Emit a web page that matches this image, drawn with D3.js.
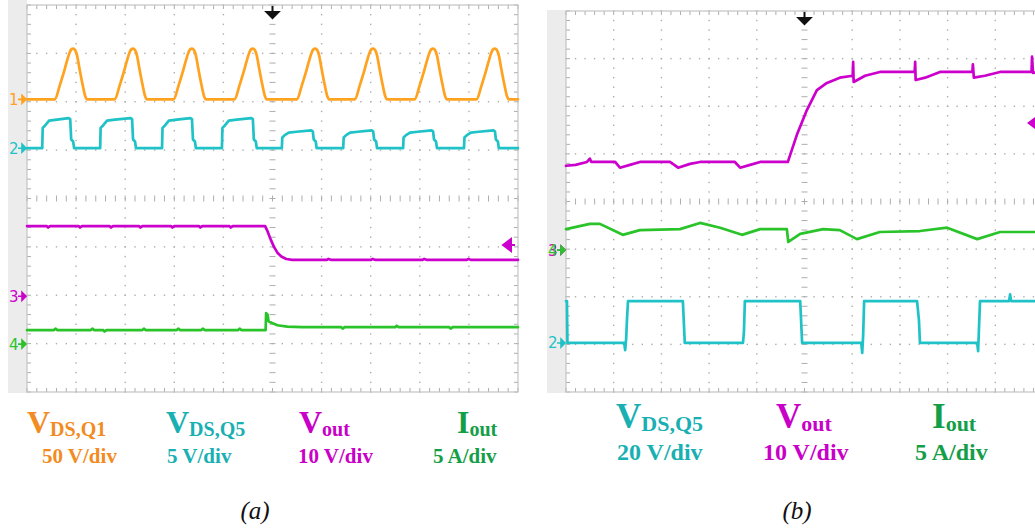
<!DOCTYPE html>
<html><head><meta charset="utf-8">
<script src="https://cdn.jsdelivr.net/npm/d3@7"></script>
<style>html,body{margin:0;padding:0;background:#fff;}svg{display:block;}</style>
</head><body>
<svg id="c" width="1035" height="529"></svg>
<script>
// ---------- DATA (time in divisions 0..10, signal in divisions 0..8 from bottom) ----------
// Panel (a)
const aCh1Base = 6.05, aCh1Peak = 7.10;
const aCh1Peaks = [0.94, 2.16, 3.36, 4.60, 5.87, 7.05, 8.27, 9.53];
const aCh1Shape = [[-0.37,0],[-0.28,0.25],[-0.20,0.5],[-0.13,0.74],[-0.08,0.9],[-0.04,0.98],[0,1],[0.04,0.97],[0.08,0.86],[0.13,0.6],[0.19,0.3],[0.25,0.05],[0.28,0]];
const aCh2Base = 5.04;
// [rise, fall, step level, top level]
const aCh2Pulses = [
  [0.31,0.88,5.46,5.66],[1.49,2.14,5.46,5.66],[2.75,3.36,5.46,5.66],[3.97,4.60,5.46,5.66],
  [5.19,5.82,5.26,5.41],[6.44,7.05,5.26,5.41],[7.66,8.27,5.26,5.41],[8.90,9.53,5.26,5.41]
];
const aCh3 = [[0,3.43],[0.40,3.43],[0.43,3.40],[0.47,3.43],[1.05,3.43],[1.08,3.40],[1.12,3.43],
  [1.68,3.43],[1.71,3.40],[1.75,3.43],[2.28,3.43],[2.31,3.40],[2.35,3.43],[2.93,3.43],[2.96,3.40],[3.00,3.43],
  [3.50,3.43],[3.53,3.40],[3.57,3.43],[4.12,3.43],[4.15,3.40],[4.19,3.43],[4.78,3.43],[4.85,3.43],
  [4.90,3.32],[4.96,3.16],[5.03,3.00],[5.10,2.88],[5.18,2.80],[5.28,2.75],[5.40,2.73],
  [6.10,2.73],[6.14,2.75],[6.20,2.73],[7.00,2.73],[7.04,2.75],[7.10,2.73],[8.05,2.73],[8.09,2.75],[8.15,2.73],
  [8.95,2.73],[8.99,2.75],[9.05,2.73],[10,2.73]];
const aCh4 = [[0,1.28],[0.55,1.28],[0.58,1.31],[0.62,1.28],[1.30,1.28],[1.33,1.31],[1.37,1.28],[1.55,1.28],[1.58,1.25],[1.62,1.28],
  [2.35,1.28],[2.38,1.31],[2.42,1.28],[3.05,1.28],[3.08,1.31],[3.12,1.28],[3.55,1.28],[3.58,1.31],[3.62,1.28],
  [4.30,1.28],[4.33,1.31],[4.37,1.28],[4.86,1.28],[4.87,1.63],[4.90,1.60],[4.92,1.46],[4.98,1.43],
  [5.10,1.38],[5.30,1.35],[5.60,1.34],[6.40,1.34],[6.43,1.31],[6.47,1.34],[7.50,1.34],[7.53,1.37],[7.57,1.34],
  [8.60,1.34],[8.63,1.31],[8.67,1.34],[10,1.34]];
// Panel (b)
const bCh3 = [[0,4.75],[0.20,4.77],[0.44,4.83],[0.50,4.90],[0.53,4.83],[1.03,4.83],[1.13,4.71],[1.34,4.77],[1.55,4.83],
  [2.18,4.83],[2.35,4.71],[2.60,4.79],[2.81,4.83],[3.54,4.83],[3.65,4.71],[3.86,4.77],[4.07,4.83],[4.65,4.83],
  [4.70,4.98],[4.84,5.40],[5.05,5.92],[5.26,6.34],[5.47,6.49],[5.74,6.60],[6.01,6.64],[6.02,6.93],[6.03,6.51],
  [6.27,6.64],[6.58,6.72],[7.31,6.72],[7.32,6.93],[7.33,6.55],[7.53,6.60],[7.84,6.72],[8.52,6.72],[8.53,6.88],
  [8.55,6.60],[8.78,6.64],[9.10,6.72],[9.76,6.72],[9.77,7.04],[9.79,6.70],[10,6.72]];
const bCh4 = [[0,3.42],[0.50,3.53],[0.71,3.53],[1.19,3.30],[1.55,3.40],[2.39,3.42],[2.81,3.55],[3.23,3.45],
  [3.69,3.30],[4.07,3.42],[4.63,3.42],[4.66,3.15],[4.91,3.32],[5.39,3.42],[5.74,3.40],[6.10,3.21],[6.58,3.36],
  [7.42,3.38],[7.99,3.45],[8.62,3.21],[9.10,3.36],[10,3.36]];
const bCh2 = [[0,1.91],[0.02,1.91],[0.03,1.03],[1.22,1.03],[1.24,0.88],[1.26,1.10],[1.28,1.55],[1.30,1.91],
  [2.45,1.91],[2.49,1.03],[3.71,1.03],[3.73,1.25],[3.75,1.91],[4.91,1.91],[4.95,1.03],
  [6.19,1.03],[6.21,0.82],[6.23,1.20],[6.25,1.91],[7.36,1.91],[7.40,1.50],[7.42,1.03],
  [8.62,1.03],[8.64,0.86],[8.66,1.40],[8.68,1.91],[9.29,1.91],[9.31,2.05],[9.33,1.91],[10,1.91]];
// markers and labels
const aMarkers = [["1",6.05,"ch1"],["2",5.04,"ch2"],["3",1.98,"ch3"],["4",0.99,"ch4"]];
const bMarkers = [["3",2.98,"ch3"],["4",2.98,"ch4"],["2",1.03,"ch2"]];
const aLabels = [["V","DS,Q1","50 V/div","lab1"],["V","DS,Q5","5 V/div","lab2"],["V","out","10 V/div","lab3"],["I","out","5 A/div","lab4"]];
const bLabels = [["V","DS,Q5","20 V/div","lab2"],["V","out","10 V/div","lab3"],["I","out","5 A/div","lab4"]];
const captions = ["(a)","(b)"];

// ---------- STYLE ----------
const col = {ch1:"#ffa21f", ch2:"#1fc2c6", ch3:"#cc00cc", ch4:"#2ac42a",
             lab1:"#f28c22", lab2:"#19b0b3", lab3:"#c800c8", lab4:"#159e48"};

const svg = d3.select("#c");
const xA = d3.scaleLinear().domain([0,10]).range([27,518]);
const yA = d3.scaleLinear().domain([0,8]).range([392,5]);
const xB = d3.scaleLinear().domain([0,10]).range([566,1043]);
const yB = d3.scaleLinear().domain([0,8]).range([392,11]);

function panel(x, y, stripTop){
  const g = svg.append("g");
  g.append("rect").attr("x", x(0)-19).attr("y", stripTop).attr("width",19).attr("height", y(0)-stripTop+1).attr("fill","#ececec");
  g.append("rect").attr("x", x(0)).attr("y", y(8)).attr("width", x(10)-x(0)).attr("height", y(0)-y(8)).attr("fill","#fff");
  const gc = "#adadad";
  const minor = d3.range(0, 50.5, 1).map(k => k/5);
  const minorV = d3.range(0, 40.5, 1).map(k => k/5);
  for (let i=1;i<10;i++){ if(i===5) continue;
    minorV.forEach(v => g.append("rect").attr("x", x(i)-0.7).attr("y", y(v)-0.7).attr("width",1.4).attr("height",1.4).attr("fill",gc)); }
  for (let j=1;j<8;j++){ if(j===4) continue;
    minor.forEach(t => g.append("rect").attr("x", x(t)-0.7).attr("y", y(j)-0.7).attr("width",1.4).attr("height",1.4).attr("fill",gc)); }
  minorV.forEach(v => g.append("line").attr("x1", x(5)-3).attr("x2", x(5)+3).attr("y1", y(v)).attr("y2", y(v)).attr("stroke",gc).attr("stroke-width",1));
  minor.forEach(t => g.append("line").attr("x1", x(t)).attr("x2", x(t)).attr("y1", y(4)-3).attr("y2", y(4)+3).attr("stroke",gc).attr("stroke-width",1));
  minor.forEach(t => {
    g.append("line").attr("x1", x(t)).attr("x2", x(t)).attr("y1", y(8)).attr("y2", y(8)+4).attr("stroke",gc);
    g.append("line").attr("x1", x(t)).attr("x2", x(t)).attr("y1", y(0)).attr("y2", y(0)-4).attr("stroke",gc);
  });
  minorV.forEach(v => {
    g.append("line").attr("x1", x(0)).attr("x2", x(0)+4).attr("y1", y(v)).attr("y2", y(v)).attr("stroke",gc);
    g.append("line").attr("x1", x(10)).attr("x2", x(10)-4).attr("y1", y(v)).attr("y2", y(v)).attr("stroke",gc);
  });
  g.append("rect").attr("x", x(0)).attr("y", y(8)).attr("width", x(10)-x(0)).attr("height", y(0)-y(8))
    .attr("fill","none").attr("stroke","#c4c4c4").attr("stroke-width",1.2);
  const tx = x(5), ty = y(8);
  g.append("path").attr("d", `M${tx},${ty+1}V${ty+8}M${tx-6},${ty+7}L${tx+6},${ty+7}L${tx},${ty+13}Z`)
    .attr("stroke","#111").attr("stroke-width",2).attr("fill","#111");
  return g;
}

const gA = panel(xA, yA, 0);
const gB = panel(xB, yB, 10);

function trace(g, x, y, data, c, curve){
  g.append("path").datum(data)
    .attr("d", d3.line().x(d => x(d[0])).y(d => y(d[1])).curve(curve || d3.curveLinear))
    .attr("fill","none").attr("stroke", col[c]).attr("stroke-width",2.7)
    .attr("stroke-linejoin","round").attr("stroke-linecap","round");
}

const aCh1 = [[0,aCh1Base]];
aCh1Peaks.forEach(p => aCh1Shape.forEach(s => aCh1.push([p+s[0], aCh1Base + s[1]*(aCh1Peak-aCh1Base)])));
aCh1.push([10,aCh1Base]);
const aCh2 = [[0,aCh2Base]];
aCh2Pulses.forEach(([r,f,s,t]) => {
  aCh2.push([r,aCh2Base],[r+0.01,s],[r+0.06,s+0.05],[r+0.14,t-0.05],[r+0.30,t-0.03],[f-0.03,t],[f,t-0.02],
            [f+0.02,aCh2Base+0.18],[f+0.06,aCh2Base+0.14],[f+0.08,aCh2Base]);
});
aCh2.push([10,aCh2Base]);

trace(gA, xA, yA, aCh4, "ch4");
trace(gA, xA, yA, aCh3, "ch3");
trace(gA, xA, yA, aCh2, "ch2");
trace(gA, xA, yA, aCh1, "ch1", d3.curveMonotoneX);
trace(gB, xB, yB, bCh2, "ch2");
trace(gB, xB, yB, bCh4, "ch4");
trace(gB, xB, yB, bCh3, "ch3");

function markers(g, x, y, list){
  list.forEach(([n,v,c]) => {
    const yy = y(v), x0 = x(0);
    g.append("text").attr("x", x0-18).attr("y", yy+5.5).text(n)
      .attr("font-family","DejaVu Sans, sans-serif").attr("font-size",15).attr("fill",col[c]);
    g.append("path").attr("d", `M${x0-9},${yy}H${x0-3}M${x0-5},${yy-4}L${x0-1},${yy}L${x0-5},${yy+4}Z`)
      .attr("stroke",col[c]).attr("stroke-width",1.6).attr("fill",col[c]);
  });
}
markers(gA, xA, yA, aMarkers);
markers(gB, xB, yB, bMarkers);

function refArrow(g, x, y, v){
  const xx = x(10)-3, yy = y(v);
  g.append("path").attr("d", `M${xx-12},${yy}L${xx-4},${yy-6}L${xx-4},${yy+6}Z M${xx-6},${yy}H${xx}`)
    .attr("fill",col.ch3).attr("stroke",col.ch3).attr("stroke-width",2);
}
refArrow(gA, xA, yA, 3.04);
gB.append("path").attr("d", `M${1027},${yB(5.65)}L${1035},${yB(5.65)-6}L${1035},${yB(5.65)+6}Z`).attr("fill",col.ch3);

function labels(list, xs, xs2, yMain, yDiv, fMain, fSub, fDiv){
  list.forEach(([m,s,d,c],i) => {
    const t = svg.append("text").attr("x", xs[i]).attr("y", yMain)
      .attr("font-family","Liberation Serif, Times New Roman, serif").attr("font-weight","bold").attr("fill", col[c]);
    t.append("tspan").attr("font-size", fMain).text(m);
    t.append("tspan").attr("font-size", fSub).attr("dy", 3).text(s);
    svg.append("text").attr("x", xs2[i]).attr("y", yDiv).text(d)
      .attr("font-family","Liberation Serif, Times New Roman, serif").attr("font-weight","bold")
      .attr("font-size", fDiv).attr("fill", col[c]);
  });
}
labels(aLabels, [27,166,299,457], [42,167,298,433], 433, 463, 32, 20, 21);
labels(bLabels, [616,776,932], [617,763,915], 428, 460, 35, 22, 24);

svg.append("text").attr("x",255).attr("y",519).attr("text-anchor","middle").text(captions[0])
  .attr("font-family","Liberation Serif, serif").attr("font-style","italic").attr("font-size",25).attr("fill","#111");
svg.append("text").attr("x",797).attr("y",519).attr("text-anchor","middle").text(captions[1])
  .attr("font-family","Liberation Serif, serif").attr("font-style","italic").attr("font-size",25).attr("fill","#111");
</script>
</body></html>
